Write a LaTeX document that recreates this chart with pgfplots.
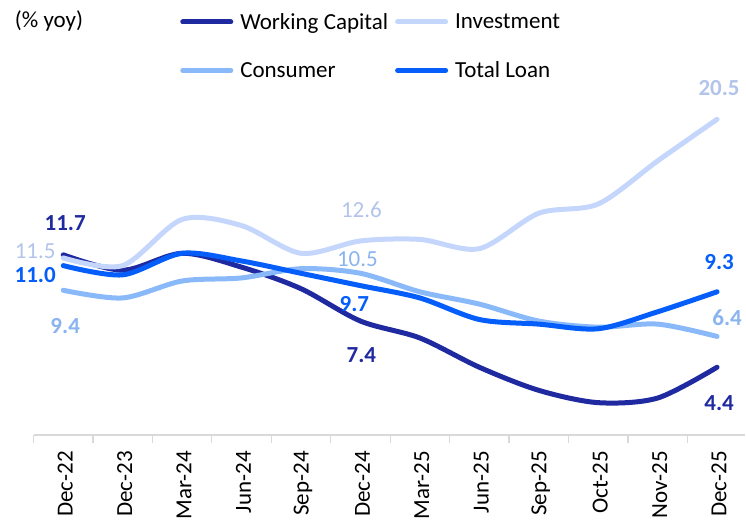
\documentclass[border=0pt]{standalone}
\usepackage{pgfplots}
\pgfplotsset{compat=1.18}
\usepackage{fontspec}
\setmainfont{Carlito}
\definecolor{wc}{RGB}{32,42,160}
\definecolor{inv}{RGB}{197,214,252}
\definecolor{invl}{RGB}{178,196,234}
\definecolor{con}{RGB}{138,185,250}
\definecolor{conl}{RGB}{138,180,240}
\definecolor{tl}{RGB}{5,94,250}
\definecolor{axg}{RGB}{217,217,217}
\newcommand\fs{\fontsize{23}{27}\selectfont}
\begin{document}
\begin{tikzpicture}
\useasboundingbox (0,0) rectangle (746pt,522pt);
\begin{axis}[
  at={(33.5pt,87pt)}, anchor=south west,
  scale only axis, width=711.5pt, height=385pt,
  xmin=-0.5, xmax=11.47, ymin=0, ymax=25,
  axis x line*=bottom, hide y axis,
  x axis line style={draw=axg, line width=1.5pt},
  xtick={0,...,11},
  xticklabels={Dec-22,Dec-23,Mar-24,Jun-24,Sep-24,Dec-24,Mar-25,Jun-25,Sep-25,Oct-25,Nov-25,Dec-25},
  major tick length=0pt,
  minor xtick={-0.5,0.5,...,11.5},
  minor tick length=8pt, tick align=outside,
  minor tick style={draw=axg, line width=1.2pt},
  xticklabel style={yshift=-16pt, xshift=2pt, rotate=90, anchor=east, inner sep=0pt, font=\fs, text=black},
  clip=false,
  legend columns=2,
  legend cell align=left,
  legend image code/.code={\draw[line width=5pt, line cap=round] (2.5pt,0pt) -- (50.5pt,0pt);},
  legend style={at={(axis description cs:0.206,1.096)}, anchor=north west,
    draw=none, fill=none, font=\fs, inner sep=0pt, row sep=31pt,
    nodes={inner sep=0pt},
    /tikz/every odd column/.append style={column sep=7pt},
    /tikz/every even column/.append style={column sep=7pt}},
  every axis plot/.append style={line width=5pt, smooth, line cap=round},
]
\addplot[wc] coordinates {(0,11.7)(1,10.7)(2,11.8)(3,10.9)(4,9.5)(5,7.4)(6,6.3)(7,4.4)(8,2.9)(9,2.1)(10,2.4)(11,4.4)};
\addlegendentry{Working Capital}
\addplot[inv] coordinates {(0,11.5)(1,11.0)(2,14.0)(3,13.6)(4,11.8)(5,12.6)(6,12.7)(7,12.1)(8,14.4)(9,15.0)(10,17.8)(11,20.5)};
\addlegendentry{Investment}
\addplot[con] coordinates {(0,9.4)(1,8.9)(2,10.0)(3,10.2)(4,10.8)(5,10.5)(6,9.3)(7,8.5)(8,7.4)(9,7.0)(10,7.2)(11,6.4)};
\addlegendentry{Consumer}
\addplot[tl] coordinates {(0,11.0)(1,10.4)(2,11.8)(3,11.3)(4,10.5)(5,9.7)(6,8.9)(7,7.5)(8,7.2)(9,6.9)(10,8.0)(11,9.3)};
\addlegendentry{Total Loan}
\node[font=\fs\bfseries, text=wc] at (axis cs:0,11.7) [xshift=2pt, yshift=32pt] {11.7};
\node[font=\fs, text=invl] at (axis cs:0,11.5) [xshift=-28pt, yshift=7pt] {11.5};
\node[font=\fs\bfseries, text=tl] at (axis cs:0,11.0) [xshift=-28pt, yshift=-9pt] {11.0};
\node[font=\fs\bfseries, text=conl] at (axis cs:0,9.4) [xshift=2pt, yshift=-36pt] {9.4};
\node[font=\fs, text=invl] at (axis cs:5,12.6) [xshift=1pt, yshift=31pt] {12.6};
\node[font=\fs, text=conl] at (axis cs:5,10.5) [xshift=-3pt, yshift=14.5pt] {10.5};
\node[font=\fs\bfseries, text=tl] at (axis cs:5,9.7) [xshift=-6pt, yshift=-18pt] {9.7};
\node[font=\fs\bfseries, text=wc] at (axis cs:5,7.4) [xshift=1pt, yshift=-34pt] {7.4};
\node[font=\fs\bfseries, text=invl] at (axis cs:11,20.5) [xshift=2pt, yshift=31pt] {20.5};
\node[font=\fs\bfseries, text=tl] at (axis cs:11,9.3) [xshift=2pt, yshift=30pt] {9.3};
\node[font=\fs\bfseries, text=conl] at (axis cs:11,6.4) [xshift=10pt, yshift=19pt] {6.4};
\node[font=\fs\bfseries, text=wc] at (axis cs:11,4.4) [xshift=2pt, yshift=-36pt] {4.4};
\end{axis}
\node[font=\fs, text=black] at (49pt,501pt) {(\% yoy)};
\end{tikzpicture}
\end{document}
